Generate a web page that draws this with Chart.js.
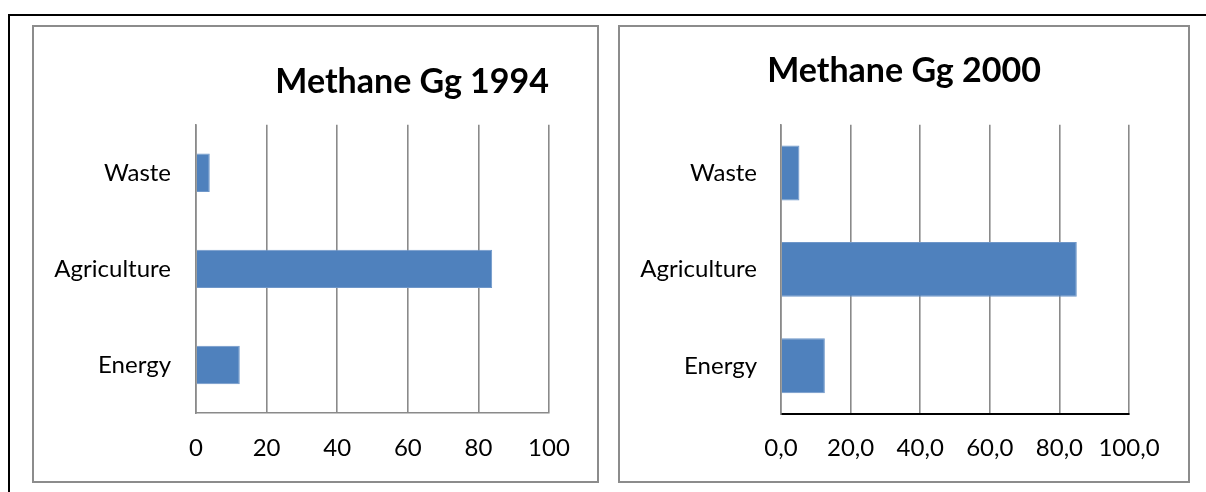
<!DOCTYPE html>
<html>
<head>
<meta charset="utf-8">
<script src="https://cdn.jsdelivr.net/npm/chart.js@4.4.1/dist/chart.umd.min.js"></script>
<style>
  html, body { margin: 0; padding: 0; background: #fff; width: 1206px; height: 492px; overflow: hidden; position: relative; }
  #outer { position: absolute; left: 8px; top: 14px; width: 1400px; height: 700px; border: 2px solid #000; box-sizing: border-box; }
  .box { position: absolute; border: 2px solid #8c8c8c; background: #fff; }
  #box1 { left: 32px; top: 25px; width: 563px; height: 454px; }
  #box2 { left: 618px; top: 25px; width: 568px; height: 454px; }
  canvas { display: block; }
</style>
</head>
<body>
<div id="outer"></div>
<div class="box" id="box1"><canvas id="c1" width="563" height="454"></canvas></div>
<div class="box" id="box2"><canvas id="c2" width="568" height="454"></canvas></div>
<script>
// ---- data ----
const categories = ['Waste', 'Agriculture', 'Energy'];
const values1994 = [3.9, 83.9, 12.4];
const values2000 = [5.3, 85.0, 12.6];
const xTicks1994 = ['0', '20', '40', '60', '80', '100'];
const xTicks2000 = ['0,0', '20,0', '40,0', '60,0', '80,0', '100,0'];
const title1994 = 'Methane Gg 1994';
const title2000 = 'Methane Gg 2000';

Chart.defaults.font.family = 'Lato, "Open Sans", sans-serif';
Chart.defaults.color = '#000';

const GRID = '#8a8a8a';
const BAR = '#4f81bd';

function makeChart(canvasId, values, tickLabels, titleText, opts) {
  return new Chart(document.getElementById(canvasId), {
    type: 'bar',
    data: {
      labels: categories,
      datasets: [{
        data: values,
        backgroundColor: BAR,
        borderColor: '#6f97c9',
        borderWidth: 1,
        barPercentage: opts.barPct,
        categoryPercentage: 1
      }]
    },
    options: {
      indexAxis: 'y',
      responsive: false,
      animation: false,
      devicePixelRatio: 1,
      layout: { padding: { left: 0, top: 0, right: opts.padRight, bottom: 0 } },
      plugins: {
        legend: { display: false },
        tooltip: { enabled: false },
        title: {
          display: true,
          text: titleText,
          fullSize: opts.titleFull,
          align: opts.titleAlign,
          color: '#000',
          font: { size: 34, weight: 'bold', lineHeight: 1.2 },
          padding: { top: opts.titleTop, bottom: opts.titleBottom }
        }
      },
      scales: {
        x: {
          type: 'linear',
          min: 0,
          max: 100,
          ticks: {
            stepSize: 20,
            padding: opts.xPad,
            font: { size: 24 },
            callback: (v, i) => tickLabels[i]
          },
          grid: { color: GRID, lineWidth: 1.6, drawTicks: false },
          border: { display: true, color: opts.xBorder, width: opts.xBorderW },
          afterFit: (s) => {
            s.height = opts.xHeight;
            if (opts.scaleRight) { s.paddingRight = opts.scaleRight; }
          }
        },
        y: {
          ticks: { padding: opts.yPad, font: { size: 24 } },
          grid: { display: false, drawTicks: false },
          border: { display: true, color: GRID, width: 1.6 },
          afterFit: (s) => { s.width = opts.yWidth; }
        }
      }
    }
  });
}

makeChart('c1', values1994, xTicks1994, title1994, {
  barPct: 0.4, padRight: 48, scaleRight: 0, titleFull: false, titleAlign: 'end',
  titleTop: 35, titleBottom: 22, xPad: 21, xHeight: 68, yPad: 25, yWidth: 162,
  xBorder: GRID, xBorderW: 1.6
});
makeChart('c2', values2000, xTicks2000, title2000, {
  barPct: 0.57, padRight: 0, scaleRight: 59, titleFull: true, titleAlign: 'center',
  titleTop: 24, titleBottom: 33, xPad: 20, xHeight: 67, yPad: 24, yWidth: 161,
  xBorder: '#000', xBorderW: 2
});
</script>
</body>
</html>
